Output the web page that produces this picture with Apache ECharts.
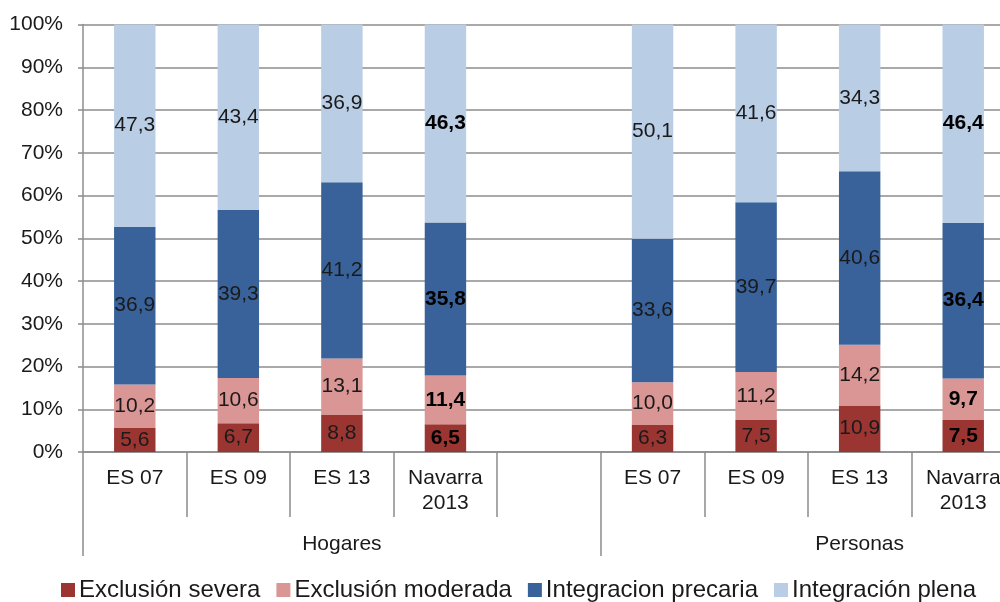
<!DOCTYPE html>
<html><head><meta charset="utf-8">
<script src="https://cdn.jsdelivr.net/npm/echarts@6/dist/echarts.min.js"></script>
<style>html,body{margin:0;padding:0;background:#fff;overflow:hidden;width:1000px;height:602px}#c{width:1015px;height:602px}</style>
</head><body><div id="c"></div>
<script>
var categories = ['ES 07','ES 09','ES 13','Navarra\n2013','','ES 07','ES 09','ES 13','Navarra\n2013'];
var groups = ['Hogares','Personas'];
var seriesNames = ['Exclusión severa','Exclusión moderada','Integracion precaria','Integración plena'];
var exclusionSevera   = [5.6, 6.7, 8.8, 6.5, null, 6.3, 7.5, 10.9, 7.5];
var exclusionModerada = [10.2, 10.6, 13.1, 11.4, null, 10.0, 11.2, 14.2, 9.7];
var integracionPrecaria = [36.9, 39.3, 41.2, 35.8, null, 33.6, 39.7, 40.6, 36.4];
var integracionPlena  = [47.3, 43.4, 36.9, 46.3, null, 50.1, 41.6, 34.3, 46.4];
var yTicks = [0,10,20,30,40,50,60,70,80,90,100];

var colors = ['#9B3532','#DA9694','#386299','#B9CDE5'];
var textColor = '#1a1a1a';
var gridColor = '#8c8c8c';
var font = '"Liberation Sans", Arial, sans-serif';

var allData = [exclusionSevera, exclusionModerada, integracionPrecaria, integracionPlena];

var chart = echarts.init(document.getElementById('c'), null, {renderer:'canvas'});

function fmt(p){
  if (p.value == null) return '';
  var s = p.value.toFixed(1).replace('.', ',');
  return categories[p.dataIndex].indexOf('Navarra') === 0 ? '{b|' + s + '}' : s;
}

var series = seriesNames.map(function(n, i){
  return {
    name: n, type: 'bar', stack: 'total', data: allData[i], barWidth: '40%',
    itemStyle: {color: colors[i]},
    label: {show: true, position: 'inside', formatter: fmt, color: textColor, fontSize: 21, fontFamily: font,
      rich: {b: {fontWeight: 'bold', fontSize: 21, color: '#000', fontFamily: font}}}
  };
});

chart.setOption({
  animation: false,
  textStyle: {fontFamily: font},
  grid: {left: 83, right: 0, top: 24.5, bottom: 150, containLabel: false},
  legend: {
    data: seriesNames, left: 56, top: 573, itemWidth: 14, itemHeight: 14, itemGap: 16,
    icon: 'rect', textStyle: {fontSize: 24, color: textColor, fontFamily: font, padding: [0,0,0,-1]}
  },
  xAxis: [{
    type: 'category', data: categories, position: 'bottom',
    axisLine: {show: true, lineStyle: {color: gridColor, width: 1.5}},
    axisTick: {show: true, length: 65, lineStyle: {color: gridColor, width: 1.5}},
    axisLabel: {interval: 0, fontSize: 21, color: textColor, margin: 14, lineHeight: 25, fontFamily: font},
    splitLine: {show: false}
  }, {
    type: 'category', data: categories, position: 'bottom', offset: 0,
    axisLine: {show: false},
    axisTick: {show: true, length: 104, interval: function(i){ return i === 0 || i === 5; }, lineStyle: {color: gridColor, width: 1.5}},
    axisLabel: {show: false}
  }],
  yAxis: {
    type: 'value', min: 0, max: 100, interval: 10,
    axisLine: {show: true, lineStyle: {color: gridColor, width: 1.5}},
    axisTick: {show: true, length: 5, lineStyle: {color: gridColor, width: 1.5}},
    axisLabel: {formatter: '{value}%', fontSize: 21, color: textColor, margin: 20, fontFamily: font},
    splitLine: {show: true, lineStyle: {color: gridColor, width: 1.5}}
  },
  series: series
});

var c6 = chart.convertToPixel({xAxisIndex: 0}, 6), c7 = chart.convertToPixel({xAxisIndex: 0}, 7);
var xH = chart.convertToPixel({xAxisIndex: 0}, 2);
var xP = (c6 + c7) / 2 + (c7 - c6) / 2;
var yG = chart.convertToPixel({yAxisIndex: 0}, 0) + 92;
chart.setOption({
  graphic: [
    {type: 'text', x: xH, y: yG, style: {text: groups[0], fill: textColor, font: '21px ' + font, textAlign: 'center', textVerticalAlign: 'middle'}},
    {type: 'text', x: xP, y: yG, style: {text: groups[1], fill: textColor, font: '21px ' + font, textAlign: 'center', textVerticalAlign: 'middle'}}
  ]
});
</script></body></html>
